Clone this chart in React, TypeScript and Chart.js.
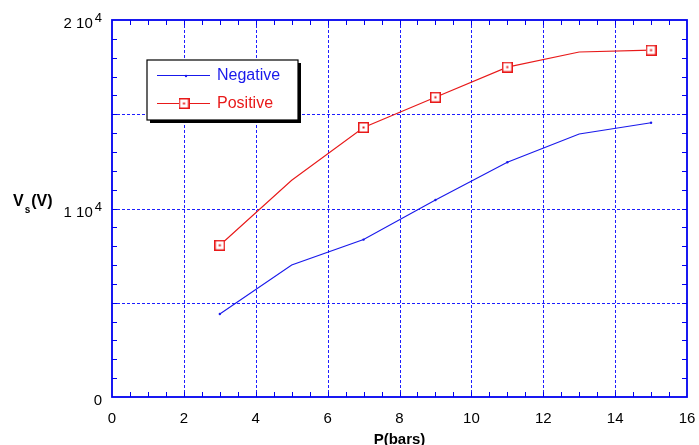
import { useEffect, useRef } from 'react';
import { Chart, registerables } from 'chart.js';

Chart.register(...registerables);

const pressures = [3, 5, 7, 9, 11, 13, 15];
const negativeValues = [4400, 7000, 8350, 10450, 12450, 13950, 14550];
const positiveValues = [8050, 11500, 14300, 15900, 17500, 18300, 18400];
const markerShown = [true, false, true, true, true, false, true];
const xTickValues = [0, 2, 4, 6, 8, 10, 12, 14, 16];
const xGridValues = [2, 4, 6, 8, 10, 12, 14];
const yGridValues = [5000, 10000, 15000];
const yTickValues = [0, 10000, 20000];
const yTickMantissa = ['0', '1 10', '2 10'];
const yTickExponent = ['', '4', '4'];
const seriesNames = ['Negative', 'Positive'];

const FONT = '"Liberation Sans", Arial, sans-serif';
const BLUE = 'rgb(25,25,235)';
const RED = 'rgb(232,25,25)';
const AXIS_BLUE = 'rgb(0,0,240)';
const GRID_BLUE = 'rgb(30,30,255)';

let squareMarker: HTMLCanvasElement | null = null;

function makeSquareMarker(): HTMLCanvasElement {
  const c = document.createElement('canvas');
  c.width = 11;
  c.height = 11;
  const g = c.getContext('2d')!;
  g.fillStyle = '#fff';
  g.fillRect(0, 0, 11, 11);
  g.strokeStyle = RED;
  g.lineWidth = 1.5;
  g.strokeRect(0.75, 0.75, 9.5, 9.5);
  g.fillStyle = RED;
  g.fillRect(4.5, 4.5, 2, 2);
  return c;
}

const framePlugin = {
  id: 'frame',
  beforeDatasetsDraw(chart: any) {
    const { ctx, chartArea: a, scales } = chart;
    const xs = scales.x;
    const ys = scales.y;
    ctx.save();
    // dotted grid
    ctx.strokeStyle = GRID_BLUE;
    ctx.lineWidth = 1;
    ctx.setLineDash([3, 2]);
    ctx.beginPath();
    xGridValues.forEach((v) => {
      const px = Math.round(xs.getPixelForValue(v)) + 0.5;
      ctx.moveTo(px, a.top);
      ctx.lineTo(px, a.bottom);
    });
    yGridValues.forEach((v) => {
      const py = Math.round(ys.getPixelForValue(v)) + 0.5;
      ctx.moveTo(a.left, py);
      ctx.lineTo(a.right, py);
    });
    ctx.stroke();
    ctx.setLineDash([]);
    // minor ticks
    ctx.strokeStyle = AXIS_BLUE;
    ctx.beginPath();
    for (let v = 0.5; v < 16; v += 0.5) {
      const px = Math.round(xs.getPixelForValue(v)) + 0.5;
      ctx.moveTo(px, a.bottom);
      ctx.lineTo(px, a.bottom - 5);
      ctx.moveTo(px, a.top);
      ctx.lineTo(px, a.top + 5);
    }
    for (let v = 1000; v < 20000; v += 1000) {
      const py = Math.round(ys.getPixelForValue(v)) + 0.5;
      ctx.moveTo(a.left, py);
      ctx.lineTo(a.left + 5, py);
      ctx.moveTo(a.right, py);
      ctx.lineTo(a.right - 5, py);
    }
    ctx.stroke();
    ctx.lineWidth = 1.8;
    ctx.strokeRect(a.left, a.top, a.right - a.left, a.bottom - a.top);
    ctx.restore();
  },
  afterDraw(chart: any) {
    const { ctx, chartArea: a, scales } = chart;
    const xs = scales.x;
    const ys = scales.y;
    ctx.save();
    ctx.fillStyle = '#000';
    // x tick labels
    ctx.font = `15px ${FONT}`;
    ctx.textAlign = 'center';
    ctx.textBaseline = 'alphabetic';
    xTickValues.forEach((v) => {
      ctx.fillText(String(v), xs.getPixelForValue(v), a.bottom + 26);
    });
    // y tick labels with superscript
    yTickValues.forEach((v, i) => {
      const py = ys.getPixelForValue(v);
      const right = a.left - 10;
      ctx.font = `13px ${FONT}`;
      const supW = yTickExponent[i] ? ctx.measureText(yTickExponent[i]).width : 0;
      if (yTickExponent[i]) {
        ctx.textAlign = 'right';
        ctx.fillText(yTickExponent[i], right, py + 2);
      }
      ctx.font = `15px ${FONT}`;
      ctx.textAlign = 'right';
      ctx.fillText(yTickMantissa[i], right - supW - (supW ? 2 : 0), py + 8);
    });
    // x title
    ctx.font = `bold 15px ${FONT}`;
    ctx.textAlign = 'center';
    ctx.fillText('P(bars)', (a.left + a.right) / 2, a.bottom + 47);
    // y title
    const ty = ys.getPixelForValue(10000) - 3;
    ctx.textAlign = 'left';
    ctx.font = `bold 16px ${FONT}`;
    ctx.fillText('V', 13, ty);
    const vW = ctx.measureText('V').width;
    ctx.font = `bold 10px ${FONT}`;
    ctx.fillText('s', 13 + vW + 1, ty + 7);
    const sW = ctx.measureText('s').width;
    ctx.font = `bold 16px ${FONT}`;
    ctx.fillText('(V)', 13 + vW + sW + 2, ty);

    // legend box
    const bx = 147, by = 60, bw = 151, bh = 60;
    ctx.fillStyle = '#000';
    ctx.fillRect(bx + 3, by + 3, bw, bh);
    ctx.fillStyle = '#fff';
    ctx.fillRect(bx, by, bw, bh);
    ctx.strokeStyle = '#000';
    ctx.lineWidth = 1.2;
    ctx.strokeRect(bx, by, bw, bh);
    // entries
    const rows = [75, 103];
    const colors = [BLUE, RED];
    rows.forEach((ry, i) => {
      ctx.strokeStyle = colors[i];
      ctx.lineWidth = 1;
      ctx.beginPath();
      ctx.moveTo(157, ry + 0.5);
      ctx.lineTo(210, ry + 0.5);
      ctx.stroke();
      if (i === 0) {
        ctx.fillStyle = BLUE;
        ctx.beginPath();
        ctx.arc(186, ry + 1, 1.2, 0, Math.PI * 2);
        ctx.fill();
      } else if (squareMarker) {
        ctx.drawImage(squareMarker, 184 - 5.5, ry - 5);
      }
      ctx.fillStyle = colors[i];
      ctx.font = `16px ${FONT}`;
      ctx.textAlign = 'left';
      ctx.textBaseline = 'middle';
      ctx.fillText(seriesNames[i], 217, ry + 1);
    });
    ctx.restore();
  },
};

export default function App() {
  const ref = useRef<HTMLCanvasElement>(null);
  useEffect(() => {
    document.body.style.margin = '0';
    squareMarker = makeSquareMarker();
    const chart = new Chart(ref.current!, {
      type: 'line',
      data: {
        datasets: [
          {
            label: seriesNames[0],
            data: pressures.map((p, i) => ({ x: p, y: negativeValues[i] })),
            borderColor: BLUE,
            backgroundColor: BLUE,
            borderWidth: 1.1,
            pointStyle: 'circle',
            pointRadius: markerShown.map((m) => (m ? 1.2 : 0)),
            pointBorderWidth: 0,
            tension: 0,
          },
          {
            label: seriesNames[1],
            data: pressures.map((p, i) => ({ x: p, y: positiveValues[i] })),
            borderColor: RED,
            backgroundColor: RED,
            borderWidth: 1.1,
            pointStyle: squareMarker as any,
            pointRadius: markerShown.map((m) => (m ? 5 : 0)),
            tension: 0,
          },
        ],
      },
      options: {
        animation: false,
        responsive: false,
        devicePixelRatio: 1,
        layout: { padding: { top: 20, right: 12, left: 0, bottom: 0 } },
        plugins: { legend: { display: false }, tooltip: { enabled: false } },
        scales: {
          x: {
            type: 'linear',
            min: 0,
            max: 16,
            ticks: { stepSize: 2, display: false },
            grid: { display: false, drawTicks: false },
            border: { display: false },
            afterFit: (s: any) => {
              s.height = 48;
            },
          },
          y: {
            type: 'linear',
            min: 0,
            max: 20000,
            ticks: { stepSize: 5000, display: false },
            grid: { display: false, drawTicks: false },
            border: { display: false },
            afterFit: (s: any) => {
              s.width = 112;
            },
          },
        },
      },
      plugins: [framePlugin],
    });
    return () => chart.destroy();
  }, []);
  return (
    <div style={{ width: 699, height: 445 }}>
      <canvas ref={ref} width={699} height={445} style={{ display: 'block' }} />
    </div>
  );
}
